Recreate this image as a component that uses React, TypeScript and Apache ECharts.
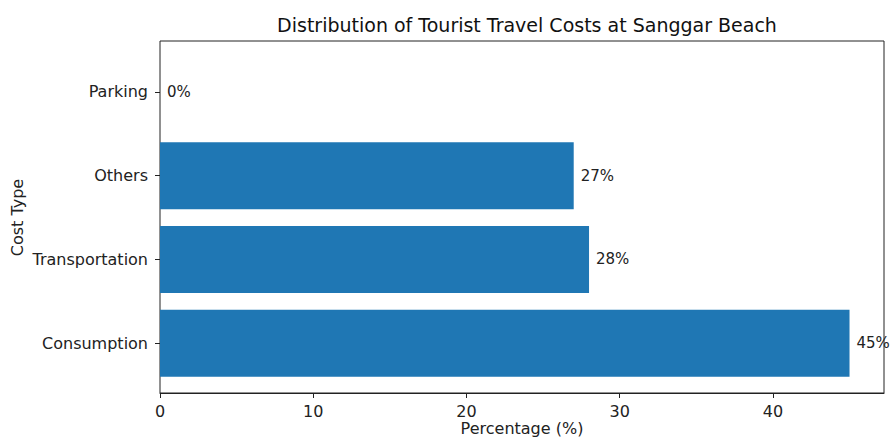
import React, { useEffect, useRef } from "react";
import * as echarts from "echarts";

const categories = ["Consumption", "Transportation", "Others", "Parking"];
const percentages = [45, 28, 27, 0];
const xTicks = [0, 10, 20, 30, 40];

const FONT = "DejaVu Sans";
const BAR = "#1f77b4";
const INK = "#222";

export default function App() {
  const ref = useRef<HTMLDivElement>(null);
  useEffect(() => {
    document.body.style.margin = "0";
    const chart = echarts.init(ref.current!, undefined, { renderer: "svg" });
    const xMax = 47.25;
    chart.setOption({
      animation: false,
      backgroundColor: "#fff",
      textStyle: { fontFamily: FONT },
      title: {
        text: "Distribution of Tourist Travel Costs at Sanggar Beach",
        left: 522,
        textAlign: "center",
        top: 10,
        textStyle: { fontFamily: FONT, fontSize: 19, fontWeight: "normal", color: "#111" },
      },
      grid: [
        { left: 160, top: 41, width: 724, height: 352, show: true, borderColor: INK, borderWidth: 1, backgroundColor: "transparent", containLabel: false, outerBoundsMode: "none" },
        { left: 160, top: 50, width: 724, height: 335, containLabel: false, outerBoundsMode: "none" },
      ],
      xAxis: [
        {
          type: "value",
          gridIndex: 0,
          min: 0,
          max: xMax,
          interval: 10,
          axisLine: { show: true, lineStyle: { color: INK } },
          axisTick: { show: true, length: 5, lineStyle: { color: INK } },
          axisLabel: {
            fontFamily: FONT,
            fontSize: 16,
            color: INK,
            margin: 10,
            showMaxLabel: false,
            formatter: (v: number) => (xTicks.includes(v) ? String(v) : ""),
          },
          splitLine: { show: false },
          name: "Percentage (%)",
          nameLocation: "middle",
          nameGap: 27,
          nameMoveOverlap: false,
          nameTextStyle: { fontFamily: FONT, fontSize: 16, color: INK },
        },
        { type: "value", gridIndex: 1, min: 0, max: xMax, show: false },
      ],
      yAxis: [
        { type: "value", gridIndex: 0, show: false, min: 0, max: 1 },
        {
          type: "category",
          gridIndex: 1,
          data: categories,
          axisLine: { show: false },
          axisTick: { show: true, alignWithLabel: true, length: 5, lineStyle: { color: INK } },
          axisLabel: { fontFamily: FONT, fontSize: 16, color: INK, margin: 12 },
          name: "Cost Type",
          nameLocation: "middle",
          nameRotate: 90,
          nameGap: 135,
          nameMoveOverlap: false,
          nameTextStyle: { fontFamily: FONT, fontSize: 16, color: INK },
        },
      ],
      series: [
        {
          type: "bar",
          xAxisIndex: 1,
          yAxisIndex: 1,
          data: percentages,
          barCategoryGap: "20%",
          itemStyle: { color: BAR },
          label: {
            show: true,
            position: "right",
            distance: 7,
            formatter: "{c}%",
            fontFamily: FONT,
            fontSize: 15,
            color: INK,
          },
        },
      ],
    });
    return () => chart.dispose();
  }, []);
  return <div ref={ref} style={{ width: 893, height: 438 }} />;
}
